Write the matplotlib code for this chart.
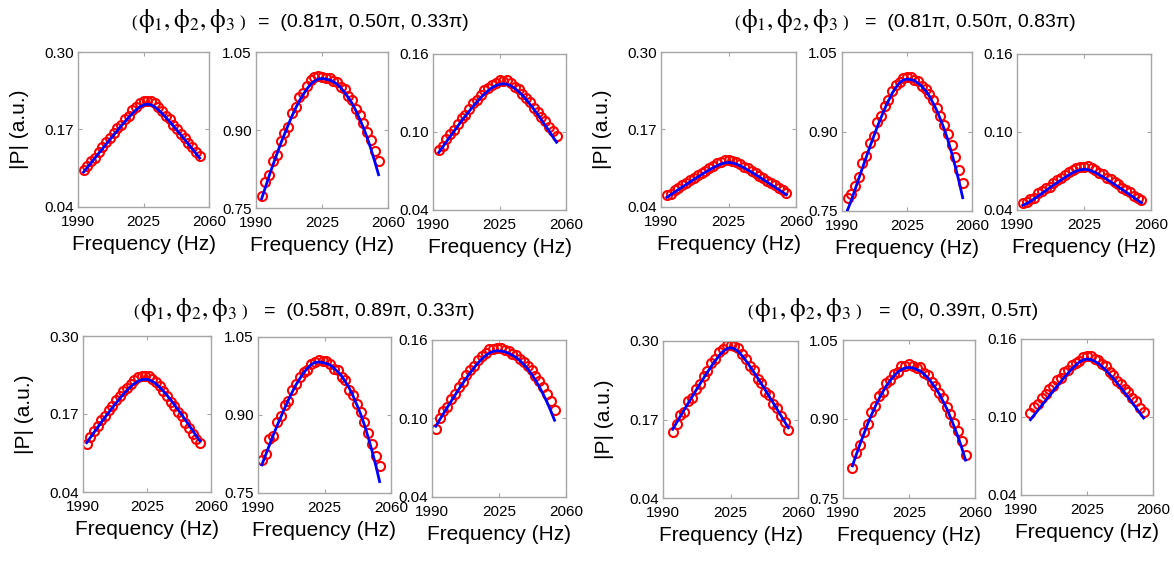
import matplotlib
matplotlib.use("Agg")
import matplotlib.pyplot as plt

plt.rcParams['font.family'] = ['Liberation Sans', 'DejaVu Sans']
plt.rcParams['mathtext.fontset'] = 'stix'

# frequency samples (Hz) for each pair of phase settings
freq_a = list(range(1993, 2056, 2))   # top row
freq_b = list(range(1992, 2055, 2))   # bottom left
freq_c = list(range(1995, 2056, 2))   # bottom right

phase_label = r'$\mathrm{\phi}_1, \mathrm{\phi}_2, \mathrm{\phi}_3$'
titles = [
    "(0.81\u03c0, 0.50\u03c0, 0.33\u03c0)",
    "(0.81\u03c0, 0.50\u03c0, 0.83\u03c0)",
    "(0.58\u03c0, 0.89\u03c0, 0.33\u03c0)",
    "(0, 0.39\u03c0, 0.5\u03c0)",
]

# y ranges / tick labels of the three sensors
ylims = [(0.04, 0.30), (0.75, 1.05), (0.04, 0.16)]
ytick_labels = [["0.04", "0.17", "0.30"], ["0.75", "0.90", "1.05"], ["0.04", "0.10", "0.16"]]
xtick_labels = ["1990", "2025", "2060"]

# measured |P| (circles) and model (line), phases (0.81pi, 0.50pi, 0.33pi)
meas_1a = [0.102, 0.108, 0.117, 0.123, 0.133, 0.140, 0.149, 0.155, 0.164, 0.172, 0.178, 0.187, 0.193, 0.202, 0.208, 0.214,
           0.217, 0.218, 0.217, 0.214, 0.208, 0.201, 0.193, 0.187, 0.178, 0.171, 0.162, 0.156, 0.147, 0.141, 0.132, 0.126]
fit_1a = [0.0985, 0.1064, 0.1142, 0.1220, 0.1299, 0.1376, 0.1454, 0.1531, 0.1607, 0.1682, 0.1757, 0.1829, 0.1900, 0.1966,
          0.2027, 0.2078, 0.2113, 0.2126, 0.2113, 0.2078, 0.2027, 0.1966, 0.1900, 0.1829, 0.1757, 0.1682, 0.1607, 0.1531,
          0.1454, 0.1376, 0.1299, 0.1220]
meas_1b = [0.774, 0.800, 0.814, 0.841, 0.851, 0.879, 0.895, 0.906, 0.933, 0.944, 0.964, 0.971, 0.985, 0.996, 1.001, 1.003,
           1.002, 1.000, 1.000, 0.994, 0.993, 0.983, 0.978, 0.965, 0.957, 0.941, 0.928, 0.914, 0.897, 0.880, 0.859, 0.840]
fit_1b = [0.768, 0.790, 0.812, 0.833, 0.853, 0.873, 0.891, 0.909, 0.926, 0.942, 0.956, 0.968, 0.979, 0.988, 0.994, 0.998,
          0.999, 0.998, 0.996, 0.993, 0.988, 0.981, 0.972, 0.962, 0.951, 0.937, 0.921, 0.904, 0.885, 0.863, 0.839, 0.814]
meas_1c = [0.0862, 0.0893, 0.0944, 0.0985, 0.1015, 0.1065, 0.1104, 0.1132, 0.1179, 0.1225, 0.1249, 0.1282, 0.1321, 0.1338,
           0.1360, 0.1377, 0.1397, 0.1391, 0.1397, 0.1375, 0.1346, 0.1332, 0.1293, 0.1260, 0.1234, 0.1186, 0.1156, 0.1115,
           0.1082, 0.1039, 0.1005, 0.0971]
fit_1c = [0.0842, 0.0883, 0.0924, 0.0965, 0.1005, 0.1045, 0.1084, 0.1122, 0.1159, 0.1195, 0.1229, 0.1262, 0.1291, 0.1318,
          0.1340, 0.1357, 0.1367, 0.1371, 0.1367, 0.1355, 0.1336, 0.1312, 0.1283, 0.1250, 0.1214, 0.1176, 0.1136, 0.1095,
          0.1052, 0.1009, 0.0965, 0.0921]

# phases (0.81pi, 0.50pi, 0.83pi)
meas_2a = [0.0593, 0.0626, 0.0679, 0.0712, 0.0765, 0.0797, 0.0850, 0.0882, 0.0933, 0.0974, 0.1004, 0.1052, 0.1089, 0.1132,
           0.1160, 0.1180, 0.1187, 0.1170, 0.1160, 0.1122, 0.1079, 0.1052, 0.1004, 0.0974, 0.0923, 0.0892, 0.0840, 0.0797,
           0.0765, 0.0712, 0.0679, 0.0636]
fit_2a = [0.0563, 0.0606, 0.0649, 0.0692, 0.0735, 0.0777, 0.0820, 0.0862, 0.0903, 0.0944, 0.0984, 0.1022, 0.1059, 0.1092,
          0.1120, 0.1140, 0.1147, 0.1140, 0.1120, 0.1092, 0.1059, 0.1022, 0.0984, 0.0944, 0.0903, 0.0862, 0.0820, 0.0777,
          0.0735, 0.0692, 0.0649, 0.0606]
meas_2b = [0.774, 0.782, 0.798, 0.815, 0.840, 0.854, 0.878, 0.892, 0.917, 0.930, 0.949, 0.960, 0.977, 0.987, 0.994, 1.001,
           1.002, 1.003, 0.998, 0.995, 0.986, 0.981, 0.970, 0.960, 0.944, 0.930, 0.913, 0.895, 0.874, 0.852, 0.828, 0.802]
fit_2b = [0.752, 0.770, 0.790, 0.811, 0.831, 0.851, 0.871, 0.890, 0.909, 0.926, 0.943, 0.958, 0.972, 0.983, 0.992, 0.997,
          0.999, 0.998, 0.996, 0.991, 0.985, 0.977, 0.967, 0.954, 0.940, 0.923, 0.905, 0.884, 0.860, 0.834, 0.806, 0.775]
meas_2c = [0.0455, 0.0462, 0.0484, 0.0496, 0.0527, 0.0543, 0.0569, 0.0580, 0.0611, 0.0631, 0.0646, 0.0671, 0.0689, 0.0706,
           0.0725, 0.0729, 0.0733, 0.0735, 0.0720, 0.0707, 0.0686, 0.0674, 0.0645, 0.0636, 0.0612, 0.0597, 0.0567, 0.0552,
           0.0536, 0.0511, 0.0495, 0.0480]
fit_2c = [0.0436, 0.0450, 0.0467, 0.0486, 0.0507, 0.0528, 0.0549, 0.0570, 0.0591, 0.0611, 0.0631, 0.0651, 0.0669, 0.0686,
          0.0700, 0.0709, 0.0713, 0.0710, 0.0700, 0.0687, 0.0671, 0.0654, 0.0635, 0.0616, 0.0597, 0.0577, 0.0557, 0.0537,
          0.0516, 0.0496, 0.0475, 0.0455]

# phases (0.58pi, 0.89pi, 0.33pi)
meas_3a = [0.120, 0.132, 0.142, 0.150, 0.160, 0.167, 0.176, 0.183, 0.193, 0.200, 0.208, 0.213, 0.220, 0.227, 0.231, 0.234,
           0.234, 0.234, 0.229, 0.224, 0.217, 0.209, 0.200, 0.190, 0.183, 0.173, 0.166, 0.155, 0.147, 0.136, 0.128, 0.122]
fit_3a = [0.1221, 0.1307, 0.1392, 0.1476, 0.1560, 0.1643, 0.1724, 0.1803, 0.1881, 0.1956, 0.2027, 0.2094, 0.2154, 0.2205,
          0.2245, 0.2271, 0.2280, 0.2270, 0.2243, 0.2200, 0.2145, 0.2081, 0.2010, 0.1934, 0.1854, 0.1772, 0.1687, 0.1600,
          0.1512, 0.1423, 0.1333, 0.1250]
meas_3b = [0.814, 0.825, 0.854, 0.859, 0.887, 0.899, 0.919, 0.927, 0.949, 0.960, 0.974, 0.982, 0.987, 0.999, 1.002, 1.006,
           1.003, 1.004, 0.999, 0.988, 0.986, 0.974, 0.968, 0.949, 0.939, 0.921, 0.906, 0.887, 0.866, 0.845, 0.822, 0.802]
fit_3b = [0.804, 0.823, 0.842, 0.861, 0.879, 0.896, 0.913, 0.929, 0.944, 0.958, 0.970, 0.981, 0.990, 0.997, 1.001, 1.002,
          1.001, 0.999, 0.996, 0.990, 0.983, 0.975, 0.964, 0.952, 0.937, 0.920, 0.902, 0.881, 0.857, 0.831, 0.803, 0.772]
meas_3c = [0.0921, 0.1000, 0.1058, 0.1085, 0.1152, 0.1188, 0.1244, 0.1278, 0.1330, 0.1371, 0.1399, 0.1444, 0.1475, 0.1501,
           0.1531, 0.1534, 0.1538, 0.1536, 0.1520, 0.1519, 0.1494, 0.1485, 0.1451, 0.1432, 0.1398, 0.1368, 0.1324, 0.1284,
           0.1238, 0.1187, 0.1130, 0.1067]
fit_3c = [0.0941, 0.0990, 0.1038, 0.1085, 0.1132, 0.1178, 0.1224, 0.1268, 0.1310, 0.1351, 0.1389, 0.1424, 0.1455, 0.1481,
          0.1501, 0.1514, 0.1518, 0.1516, 0.1510, 0.1499, 0.1484, 0.1465, 0.1441, 0.1412, 0.1378, 0.1338, 0.1294, 0.1244,
          0.1188, 0.1127, 0.1060, 0.0987]

# phases (0, 0.39pi, 0.5pi)
meas_4a = [0.150, 0.163, 0.177, 0.183, 0.200, 0.206, 0.221, 0.229, 0.242, 0.250, 0.263, 0.270, 0.281, 0.286, 0.293, 0.294,
           0.291, 0.289, 0.279, 0.271, 0.259, 0.252, 0.237, 0.230, 0.216, 0.211, 0.196, 0.189, 0.175, 0.166, 0.152]
fit_4a = [0.1538, 0.1645, 0.1753, 0.1859, 0.1966, 0.2072, 0.2177, 0.2280, 0.2382, 0.2482, 0.2579, 0.2670, 0.2753, 0.2823,
          0.2872, 0.2890, 0.2872, 0.2825, 0.2756, 0.2674, 0.2584, 0.2489, 0.2392, 0.2291, 0.2190, 0.2086, 0.1983, 0.1878,
          0.1773, 0.1667, 0.1562]
meas_4b = [0.807, 0.835, 0.850, 0.876, 0.891, 0.913, 0.925, 0.943, 0.952, 0.969, 0.975, 0.986, 0.990, 1.000, 1.000, 1.005,
           1.001, 0.996, 0.999, 0.987, 0.984, 0.970, 0.963, 0.950, 0.939, 0.923, 0.909, 0.893, 0.878, 0.858, 0.831]
fit_4b = [0.811, 0.832, 0.852, 0.871, 0.890, 0.907, 0.923, 0.938, 0.951, 0.963, 0.973, 0.982, 0.989, 0.994, 0.997, 0.998,
          0.997, 0.994, 0.991, 0.985, 0.978, 0.969, 0.959, 0.948, 0.934, 0.920, 0.903, 0.885, 0.866, 0.845, 0.822]
meas_4c = [0.1029, 0.1076, 0.1103, 0.1150, 0.1177, 0.1213, 0.1240, 0.1285, 0.1301, 0.1345, 0.1358, 0.1400, 0.1419, 0.1433,
           0.1460, 0.1466, 0.1472, 0.1450, 0.1441, 0.1407, 0.1389, 0.1348, 0.1325, 0.1280, 0.1254, 0.1216, 0.1189, 0.1150,
           0.1121, 0.1072, 0.1042]
fit_4c = [0.0979, 0.1016, 0.1053, 0.1090, 0.1127, 0.1163, 0.1200, 0.1235, 0.1271, 0.1305, 0.1338, 0.1370, 0.1399, 0.1423,
          0.1440, 0.1446, 0.1442, 0.1430, 0.1411, 0.1387, 0.1359, 0.1328, 0.1295, 0.1260, 0.1224, 0.1186, 0.1149, 0.1110,
          0.1071, 0.1032, 0.0992]

groups = [
    (freq_a, [(meas_1a, fit_1a), (meas_1b, fit_1b), (meas_1c, fit_1c)]),
    (freq_a, [(meas_2a, fit_2a), (meas_2b, fit_2b), (meas_2c, fit_2c)]),
    (freq_b, [(meas_3a, fit_3a), (meas_3b, fit_3b), (meas_3c, fit_3c)]),
    (freq_c, [(meas_4a, fit_4a), (meas_4b, fit_4b), (meas_4c, fit_4c)]),
]

W, H = 1174, 561
# axes boxes in pixels: (left, top, right, bottom)
boxes = [
    [(78, 52, 209, 207), (256, 52, 388, 208), (433, 54, 566, 210)],
    [(661, 52, 796, 207), (842, 52, 972, 211), (1017, 54, 1151, 210)],
    [(83, 336, 211, 492), (258, 337, 391, 493), (432, 340, 566, 497)],
    [(663, 341, 798, 498), (843, 340, 975, 498), (1021, 339, 1153, 495)],
]
# (right edge of closing bracket, start of the values, baseline) in pixels
title_pos = [(245, 258, 27), (848, 865, 27), (247, 264, 316), (861, 879, 316)]

fig = plt.figure(figsize=(W / 100, H / 100), dpi=100)
renderer = fig.canvas.get_renderer()
edge = '#a6a6a6'
serif = 'Liberation Serif'

for g, (freq, panels) in enumerate(groups):
    for k, (meas, fit) in enumerate(panels):
        x0, y0, x1, y1 = boxes[g][k]
        ax = fig.add_axes([x0 / W, 1 - y1 / H, (x1 - x0) / W, (y1 - y0) / H])
        ax.plot(freq, meas, 'o', mfc='none', mec='red', ms=6.5, mew=1.5, zorder=2)
        ax.plot(freq, fit, '-', color='blue', lw=2.0, zorder=3)
        ax.set_xlim(1990, 2060)
        ax.set_ylim(*ylims[k])
        ax.set_xticks([float(t) for t in xtick_labels])
        ax.set_xticklabels(xtick_labels)
        ax.set_yticks([float(t) for t in ytick_labels[k]])
        ax.set_yticklabels(ytick_labels[k])
        ax.tick_params(direction='in', length=3, width=0.8, color=edge, labelsize=11,
                       top=True, right=True)
        ax.tick_params(axis='x', pad=6)
        ax.tick_params(axis='y', pad=3)
        for sp in ax.spines.values():
            sp.set_color(edge)
            sp.set_linewidth(1.0)
        ax.set_xlabel('Frequency (Hz)', fontsize=15, labelpad=4)
        if k == 0:
            ax.set_ylabel('|P| (a.u.)', fontsize=15)
            ax.yaxis.set_label_coords(-49 / (x1 - x0), 0.5)

    # group heading: small serif brackets around the phase symbols, then the values
    xr, xl, yb = title_pos[g]
    yf = 1 - yb / H
    fig.text(xr / W, yf, ')', ha='right', va='baseline', fontsize=12, family=serif)
    phi = fig.text((xr - 10) / W, yf, phase_label, ha='right', va='baseline', fontsize=18)
    left = phi.get_window_extent(renderer).x0
    fig.text((left - 1) / W, yf, '(', ha='right', va='baseline', fontsize=12, family=serif)
    fig.text(xl / W, yf, '=  ' + titles[g], ha='left', va='baseline', fontsize=14)

fig.savefig('out.png', dpi=100)
